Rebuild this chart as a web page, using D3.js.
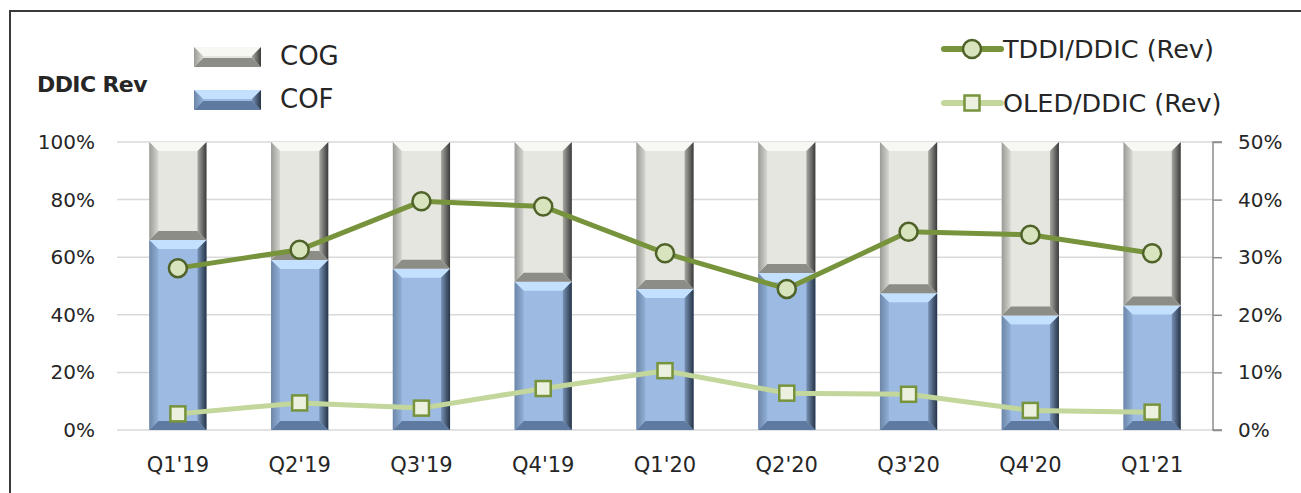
<!DOCTYPE html>
<html>
<head>
<meta charset="utf-8">
<script src="https://cdn.jsdelivr.net/npm/d3@7"></script>
<style>
  body { margin: 0; background: #fff; }
  text { font-family: "DejaVu Sans", sans-serif; fill: #262626; }
</style>
</head>
<body>
<script>
// chart data
const quarters = ["Q1'19", "Q2'19", "Q3'19", "Q4'19", "Q1'20", "Q2'20", "Q3'20", "Q4'20", "Q1'21"];
const cofShare = [66, 59, 56, 51.5, 49, 54.5, 47.5, 39.8, 43.2];   // % of DDIC rev
const cogShare = cofShare.map(v => 100 - v);                        // rest of the stack
const tddiShare = [28.1, 31.3, 39.7, 38.8, 30.7, 24.5, 34.4, 33.9, 30.7]; // right axis
const oledShare = [2.8, 4.7, 3.8, 7.2, 10.3, 6.4, 6.2, 3.4, 3.1];        // right axis
const leftTicks = [0, 20, 40, 60, 80, 100];
const rightTicks = [0, 10, 20, 30, 40, 50];

const w = 1301;
const h = 493;
const plotLeft = 117, plotRight = 1213, plotTop = 142, plotBottom = 430;
const bevel = 9;

const svg = d3.select("body").append("svg")
  .attr("width", w)
  .attr("height", h);

// frame
svg.append("rect")
  .attr("x", 10).attr("y", 11)
  .attr("width", w + 20).attr("height", h + 20)
  .attr("fill", "none")
  .attr("stroke", "#3a3a3a")
  .attr("stroke-width", 2);

const x = d3.scaleBand().domain(quarters).range([plotLeft, plotRight]).paddingInner(0.53).paddingOuter(0.265);
const yL = d3.scaleLinear().domain([0, 100]).range([plotBottom, plotTop]);
const yR = d3.scaleLinear().domain([0, 50]).range([plotBottom, plotTop]);

// gradients for the bevel faces
const defs = svg.append("defs");
function grad(id, stops) {
  const g = defs.append("linearGradient").attr("id", id).attr("x1", 0).attr("x2", 1).attr("y1", 0).attr("y2", 0);
  stops.forEach(s => g.append("stop").attr("offset", s[0]).attr("stop-color", s[1]));
}
grad("cogL", [[0, "#9a9a96"], [1, "#d6d6d1"]]);
grad("cogR", [[0, "#a8a8a3"], [1, "#3a3a3a"]]);
grad("cofL", [[0, "#6d86a8"], [1, "#90afd6"]]);
grad("cofR", [[0, "#7892b5"], [1, "#263446"]]);

const styles = {
  cog: { face: "#e6e6e1", top: "#f7f7f3", bottom: "#8d8d88", left: "url(#cogL)", right: "url(#cogR)" },
  cof: { face: "#9dbbe2", top: "#c4e0ff", bottom: "#5f7aa0", left: "url(#cofL)", right: "url(#cofR)" }
};

// gridlines
svg.append("g").selectAll("line")
  .data(leftTicks)
  .join("line")
  .attr("x1", plotLeft).attr("x2", plotRight)
  .attr("y1", d => yL(d)).attr("y2", d => yL(d))
  .attr("stroke", "#d9d9d9")
  .attr("stroke-width", 1.5);

// bevelled bar segment
function drawSegment(g, bx, by, bw, bh, st) {
  const b = Math.min(bevel, bh / 2);
  g.append("rect").attr("x", bx).attr("y", by).attr("width", bw).attr("height", bh).attr("fill", st.face);
  const poly = (pts, fill) => g.append("polygon").attr("points", pts.map(p => p.join(",")).join(" ")).attr("fill", fill);
  poly([[bx, by], [bx + bw, by], [bx + bw - b, by + b], [bx + b, by + b]], st.top);
  poly([[bx, by + bh], [bx + bw, by + bh], [bx + bw - b, by + bh - b], [bx + b, by + bh - b]], st.bottom);
  poly([[bx, by], [bx + b, by + b], [bx + b, by + bh - b], [bx, by + bh]], st.left);
  poly([[bx + bw, by], [bx + bw - b, by + b], [bx + bw - b, by + bh - b], [bx + bw, by + bh]], st.right);
}

const bars = svg.append("g");
quarters.forEach((q, i) => {
  const bx = x(q), bw = x.bandwidth();
  const cofTop = yL(cofShare[i]);
  drawSegment(bars, bx, cofTop, bw, plotBottom - cofTop, styles.cof);
  const cogTop = yL(cofShare[i] + cogShare[i]);
  drawSegment(bars, bx, cogTop, bw, cofTop - cogTop, styles.cog);
});

// left axis labels
svg.append("g").selectAll("text")
  .data(leftTicks)
  .join("text")
  .attr("x", 95)
  .attr("y", d => yL(d) + 7)
  .attr("text-anchor", "end")
  .style("font-size", "20px")
  .text(d => d + "%");

// right axis
const rAxis = svg.append("g")
  .attr("transform", `translate(${plotRight}, 0)`)
  .call(d3.axisRight(yR).tickValues(rightTicks).tickSize(9).tickPadding(16).tickFormat(d => d + "%"));
rAxis.selectAll("path, line").attr("stroke", "#8c8c8c").attr("stroke-width", 1.5);
rAxis.select(".domain").attr("d", `M9,${plotTop}H0V${plotBottom}H9`);
rAxis.selectAll("text").style("font-size", "20px").style("font-family", "'DejaVu Sans', sans-serif").attr("fill", "#262626");

// x labels
svg.append("g").selectAll("text")
  .data(quarters)
  .join("text")
  .attr("x", d => x(d) + x.bandwidth() / 2)
  .attr("y", 472)
  .attr("text-anchor", "middle")
  .style("font-size", "21px")
  .text(d => d);

// lines
const cx = (d, i) => x(quarters[i]) + x.bandwidth() / 2;
const lineR = d3.line().x(cx).y(d => yR(d));

svg.append("path")
  .attr("d", lineR(oledShare))
  .attr("fill", "none")
  .attr("stroke", "#c3d69b")
  .attr("stroke-width", 5);
svg.append("g").selectAll("rect")
  .data(oledShare)
  .join("rect")
  .attr("x", (d, i) => cx(d, i) - 7.5)
  .attr("y", d => yR(d) - 7.5)
  .attr("width", 15).attr("height", 15)
  .attr("fill", "#ebf1de")
  .attr("stroke", "#77933c")
  .attr("stroke-width", 2.5);

svg.append("path")
  .attr("d", lineR(tddiShare))
  .attr("fill", "none")
  .attr("stroke", "#77933c")
  .attr("stroke-width", 5);
svg.append("g").selectAll("circle")
  .data(tddiShare)
  .join("circle")
  .attr("cx", cx)
  .attr("cy", d => yR(d))
  .attr("r", 9)
  .attr("fill", "#d7e4bd")
  .attr("stroke", "#4f6228")
  .attr("stroke-width", 2.5);

// title
svg.append("text")
  .attr("x", 37).attr("y", 92)
  .style("font-size", "22px")
  .style("font-weight", "bold")
  .style("letter-spacing", "-0.6px")
  .attr("fill", "#000")
  .text("DDIC Rev");

// bar legend
const legBars = [["COG", styles.cog, 47], ["COF", styles.cof, 90]];
legBars.forEach(([name, st, ly]) => {
  const g = svg.append("g");
  drawSegment(g, 194, ly, 67, 20, st);
  svg.append("text").attr("x", 280).attr("y", ly + 18).style("font-size", "26px").text(name);
});

// line legend
const legLines = [["TDDI/DDIC (Rev)", 49, "tddi"], ["OLED/DDIC (Rev)", 103, "oled"]];
legLines.forEach(([name, ly, kind]) => {
  svg.append("line")
    .attr("x1", 944).attr("x2", 1001).attr("y1", ly).attr("y2", ly)
    .attr("stroke", kind === "tddi" ? "#77933c" : "#c3d69b")
    .attr("stroke-width", 6)
    .attr("stroke-linecap", "round");
  if (kind === "tddi") {
    svg.append("circle").attr("cx", 972).attr("cy", ly).attr("r", 9)
      .attr("fill", "#d7e4bd").attr("stroke", "#4f6228").attr("stroke-width", 2.5);
  } else {
    svg.append("rect").attr("x", 964.5).attr("y", ly - 7.5).attr("width", 15).attr("height", 15)
      .attr("fill", "#ebf1de").attr("stroke", "#77933c").attr("stroke-width", 2.5);
  }
  svg.append("text").attr("x", 1003).attr("y", ly + 9).style("font-size", "25.5px").text(name);
});
</script>
</body>
</html>
